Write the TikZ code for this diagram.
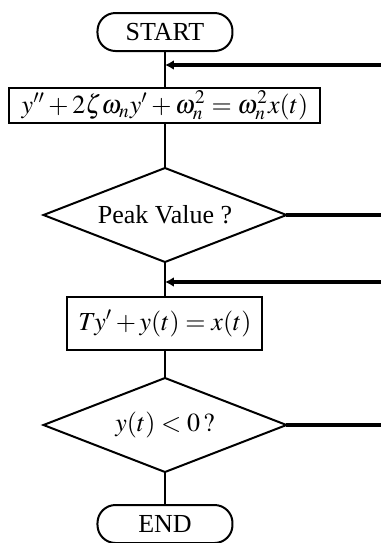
\documentclass[tikz,border=0pt]{standalone}
\usepackage{mathptmx}
\usepackage{fontspec}
\setmainfont{Liberation Serif}
\usetikzlibrary{arrows.meta, positioning, shapes.geometric}

\begin{document}
\begin{tikzpicture}[
  every node/.style={font=\fontsize{13}{15}\selectfont, outer sep=0pt},
  term/.style={draw, line width=1pt, rounded corners=9pt, minimum width=67.5pt, minimum height=19pt, inner sep=0pt},
  proc/.style={draw, line width=1pt, inner sep=1pt},
  test/.style={draw, diamond, line width=1pt, aspect=2.6, minimum width=121.5pt, minimum height=47pt, inner sep=1pt},
  link/.style={line width=1pt},
  back/.style={-{Latex[length=4.5pt, width=5pt]}, line width=2.3pt},
  exit/.style={line width=2.3pt}
]
  \useasboundingbox (0,0) rectangle (190.5pt,-271.5pt);

  \node[term] (start) at (82.5pt,-16pt) {START};
  \node[proc, minimum width=155.5pt, minimum height=17.5pt, below=18.5pt of start] (osc) {$y''+2\zeta\omega_n y'+\omega_n^2=\omega_n^2x(t)$};
  \node[test, below=22.5pt of osc] (peak) {Peak Value ?};
  \node[proc, minimum width=97.5pt, minimum height=26.5pt, below=17.5pt of peak] (lag) {$Ty'+y(t)=x(t)$};
  \node[test, below=14pt of lag] (neg) {$y(t)<0\,?$};
  \node[term, below=16.5pt of neg] (end) {END};

  \coordinate (in1) at (190.5pt,-32.5pt);
  \coordinate (in2) at (190.5pt,-141pt);
  \coordinate (out1) at (peak.east -| in1);
  \coordinate (out2) at (neg.east -| in1);

  \draw[link] (start) -- (osc);
  \draw[link] (osc) -- (peak);
  \draw[link] (peak) -- (lag);
  \draw[link] (lag) -- (neg);
  \draw[link] (neg) -- (end);

  \draw[back] (in1) -- (in1 -| start.south);
  \draw[back] (in2) -- (in2 -| peak.south);
  \draw[exit] (peak.east) -- (out1);
  \draw[exit] (neg.east) -- (out2);
\end{tikzpicture}
\end{document}
